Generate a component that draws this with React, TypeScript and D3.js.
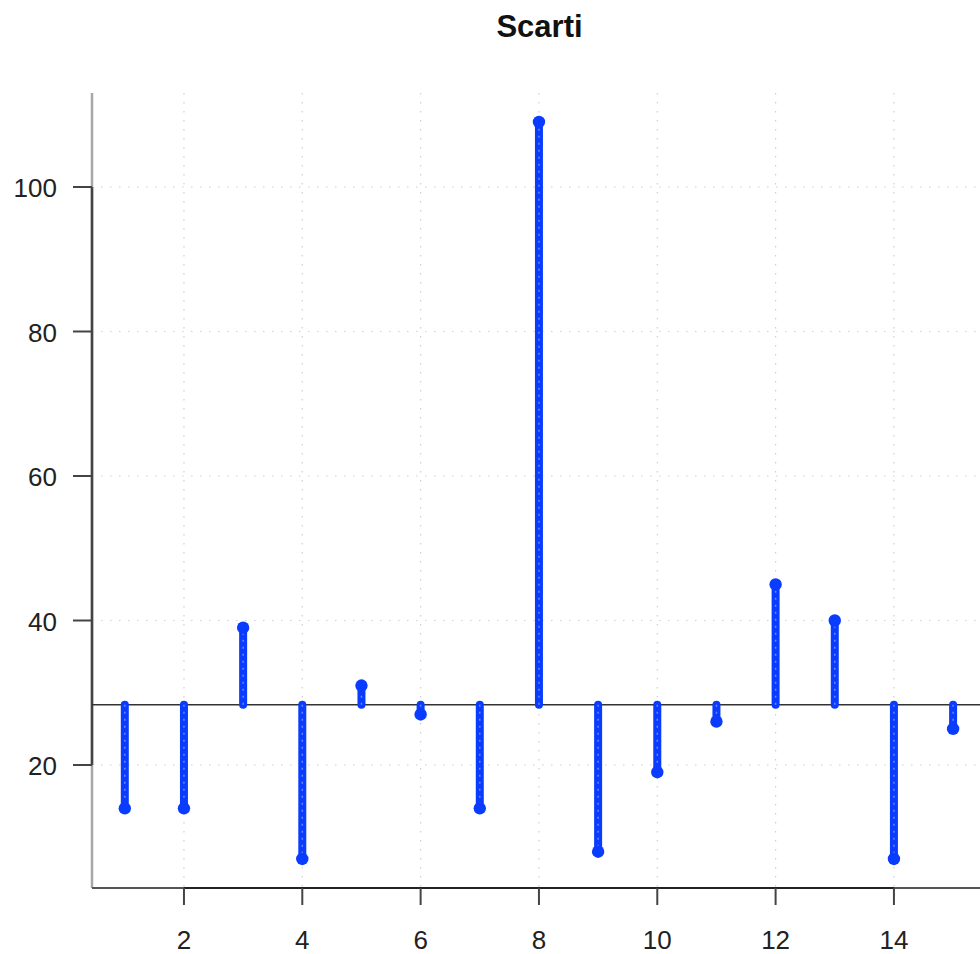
import React from "react";
import * as d3 from "d3";

const indices = [1, 2, 3, 4, 5, 6, 7, 8, 9, 10, 11, 12, 13, 14, 15];
const values = [14, 14, 39, 7, 31, 27, 14, 109, 8, 19, 26, 45, 40, 7, 25];
const xTicks = [2, 4, 6, 8, 10, 12, 14];
const yTicks = [20, 40, 60, 80, 100];
const title = "Scarti";

const W = 980;
const H = 954;
const left = 92;
const bottom = 888;
const top = 93;

export default function App() {
  const mean = d3.mean(values) as number;
  const x = d3.scaleLinear().domain([1, 15]).range([124.8, 953.1]);
  const y = d3.scaleLinear().domain([20, 100]).range([765, 187]);
  const yTop = y.invert(top);
  const yBot = y.invert(bottom);
  const font = "'Liberation Sans', Arial, Helvetica, sans-serif";
  const blue = "#0a3cff";

  return (
    <svg width={W} height={H} style={{ position: "absolute", left: 0, top: 0, background: "#fff" }} fontFamily={font}>
      <text x={539.5} y={37} textAnchor="middle" fontSize={31} fontWeight="bold" fill="#111">{title}</text>
      {/* grid */}
      {yTicks.map((t) => (
        <line key={"gy" + t} x1={left} x2={W} y1={y(t)} y2={y(t)} stroke="#cfcfcf" strokeWidth={1.2} strokeDasharray="1.5 7.5" />
      ))}
      {xTicks.map((t) => (
        <line key={"gx" + t} x1={x(t)} x2={x(t)} y1={y(yTop)} y2={bottom} stroke="#cfcfcf" strokeWidth={1.2} strokeDasharray="1.5 7.5" />
      ))}
      {/* axes */}
      <line x1={left} x2={left} y1={y(yTop)} y2={y(yBot)} stroke="#a8a8a8" strokeWidth={2.5} />
      <line x1={left} x2={left} y1={y(100)} y2={y(20)} stroke="#444" strokeWidth={2.5} />
      <line x1={left} x2={W} y1={bottom} y2={bottom} stroke="#555" strokeWidth={2} />
      <line x1={x(2)} x2={x(14)} y1={bottom} y2={bottom} stroke="#222" strokeWidth={2} />
      {yTicks.map((t) => (
        <g key={"ty" + t}>
          <line x1={left - 19} x2={left} y1={y(t)} y2={y(t)} stroke="#444" strokeWidth={2} />
          <text x={57} y={y(t) + 10} textAnchor="end" fontSize={26} fill="#222">{t}</text>
        </g>
      ))}
      {xTicks.map((t) => (
        <g key={"tx" + t}>
          <line x1={x(t)} x2={x(t)} y1={bottom} y2={bottom + 17} stroke="#444" strokeWidth={2} />
          <text x={x(t)} y={949} textAnchor="middle" fontSize={26} fill="#222">{t}</text>
        </g>
      ))}
      {/* mean line */}
      <line x1={left} x2={W} y1={y(mean)} y2={y(mean)} stroke="#333" strokeWidth={1.6} />
      {/* stems */}
      {indices.map((d, i) => (
        <g key={"s" + d}>
          <line x1={x(d)} x2={x(d)} y1={y(mean)} y2={y(values[i])} stroke={blue} strokeWidth={8} strokeLinecap="round" />
          <line x1={x(d)} x2={x(d)} y1={y(mean)} y2={y(values[i])} stroke="#6d86ff" strokeWidth={1.5} strokeDasharray="2 5" />
          <circle cx={x(d)} cy={y(values[i])} r={6.2} fill={blue} />
        </g>
      ))}
    </svg>
  );
}
